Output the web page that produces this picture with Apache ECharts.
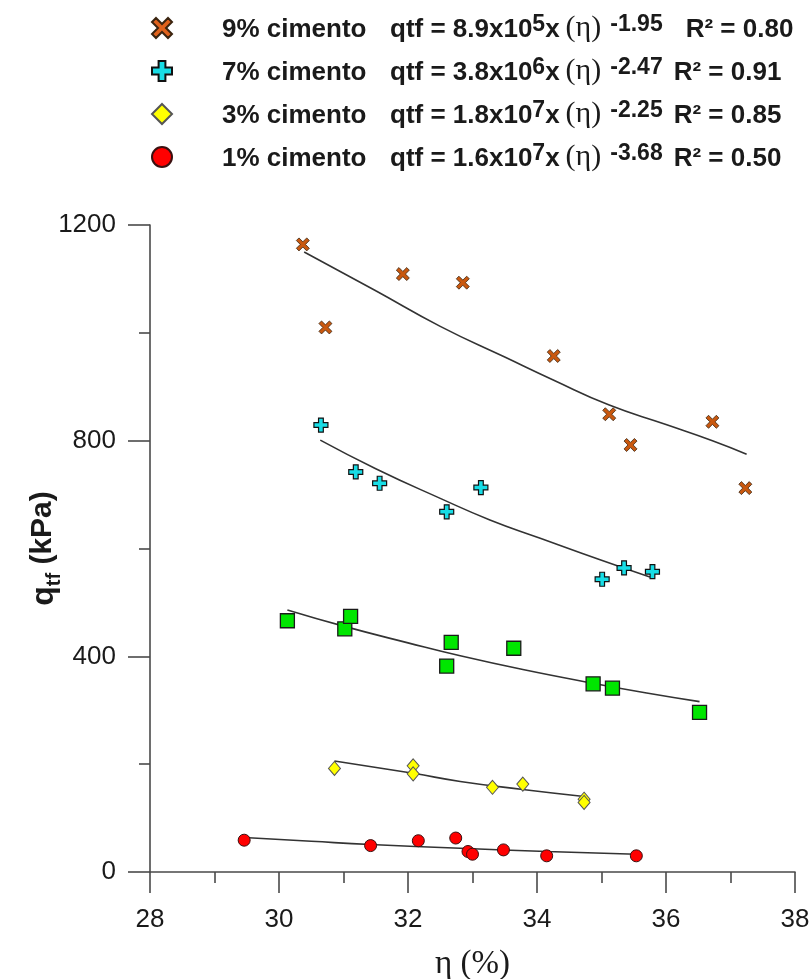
<!DOCTYPE html>
<html>
<head>
<meta charset="utf-8">
<script src="https://cdn.jsdelivr.net/npm/echarts@6/dist/echarts.min.js"></script>
<style>
  html, body { margin: 0; padding: 0; background: #ffffff; }
  #chart { width: 812px; height: 979px; }
</style>
</head>
<body>
<div id="chart"></div>
<script>
// Axis ranges and tick steps
const xMin = 28, xMax = 38, xStep = 2;
const yMin = 0, yMax = 1200, yStep = 400;

// Measured points: [porosity η (%), q_tf (kPa)]
const cimento9 = [[30.37, 1164], [30.72, 1010], [31.92, 1109], [32.85, 1093], [34.26, 957], [35.12, 849], [35.45, 792], [36.72, 835], [37.23, 712]];
const cimento7 = [[30.65, 829], [31.19, 742], [31.56, 721], [32.60, 668], [33.13, 713], [35.01, 543], [35.35, 564], [35.79, 557]];
const cimento5 = [[30.13, 466], [31.02, 451], [31.11, 474], [32.60, 382], [32.67, 426], [33.64, 415], [34.87, 349], [35.17, 341], [36.52, 296]];
const cimento3 = [[30.86, 192], [32.08, 197], [32.08, 182], [33.31, 157], [33.78, 163], [34.73, 135], [34.73, 129]];
const cimento1 = [[29.46, 59], [31.42, 49], [32.16, 58], [32.74, 63], [32.93, 38], [33.00, 33], [33.48, 41], [34.15, 30], [35.54, 30]];

// Power-law trend curves, read along the drawn fits
const trend9 = [[30.39, 1150], [31.5, 1078], [32.5, 1012], [33.5, 955], [34.26, 912], [35.12, 866], [36.0, 830], [36.72, 800], [37.25, 775]];
const trend7 = [[30.64, 801], [31.5, 748], [32.5, 693], [33.27, 653], [34.05, 619], [35.0, 578], [35.75, 547]];
const trend5 = [[30.13, 486], [31.0, 456], [32.0, 425], [32.81, 401], [33.8, 375], [34.87, 350], [35.7, 332], [36.52, 316]];
const trend3 = [[30.86, 206], [32.08, 183], [32.81, 168], [33.78, 153], [34.73, 140]];
const trend1 = [[29.46, 64], [30.5, 57], [31.42, 51], [32.81, 44], [34.15, 38], [35.54, 33]];

// Legend entries and fitted equations
const legendNames = ['9% cimento', '7% cimento', '3% cimento', '1% cimento'];
const coefMantissa = ['8.9', '3.8', '1.8', '1.6'];
const coefPower = ['5', '6', '7', '7'];
const etaPower = ['-1.95', '-2.47', '-2.25', '-3.68'];
const rSquared = ['0.80', '0.91', '0.85', '0.50'];

const SANS = '"Liberation Sans", Arial, Helvetica, sans-serif';
const SERIF = '"Liberation Serif", "Times New Roman", serif';

const xShape = 'path://M2,0 L5,3 L8,0 L10,2 L7,5 L10,8 L8,10 L5,7 L2,10 L0,8 L3,5 L0,2 Z';
const plusShape = 'path://M3.3,0 L6.7,0 L6.7,3.3 L10,3.3 L10,6.7 L6.7,6.7 L6.7,10 L3.3,10 L3.3,6.7 L0,6.7 L0,3.3 L3.3,3.3 Z';

const chart = echarts.init(document.getElementById('chart'), null, { renderer: 'canvas' });

function trendSeries(data) {
  return {
    type: 'line',
    data: data,
    smooth: true,
    showSymbol: false,
    silent: true,
    lineStyle: { color: '#333333', width: 1.6 },
    z: 1
  };
}

const axisGray = '#4a4a4a';
const ink = '#1a1a1a';

chart.setOption({
  animation: false,
  backgroundColor: '#ffffff',
  grid: { left: 150, right: 17, top: 225, bottom: 107, containLabel: false, outerBoundsMode: 'none' },
  legend: {
    orient: 'vertical',
    left: 146,
    top: 8,
    itemWidth: 20,
    itemHeight: 20,
    itemGap: 13,
    data: [
      { name: legendNames[0], icon: xShape, itemStyle: { color: '#e0621c' } },
      { name: legendNames[1], icon: plusShape },
      { name: legendNames[2], icon: 'diamond' },
      { name: legendNames[3], icon: 'circle' }
    ],
    formatter: function (name) {
      const i = legendNames.indexOf(name);
      const tail = i === 0 ? 'rr' : 'r';
      return '{nm|' + name + '}{eq|qtf = ' + coefMantissa[i] + 'x10}{sp|' + coefPower[i] +
        '}{eq|x}{gk|(η)}{sp|' + etaPower[i] + '}{' + tail + '|R² = ' + rSquared[i] + '}';
    },
    textStyle: {
      fontFamily: SANS,
      fontWeight: 'bold',
      fontSize: 26,
      color: ink,
      lineHeight: 30,
      rich: {
        nm: { fontFamily: SANS, fontWeight: 'bold', fontSize: 26, color: ink, padding: [0, 0, 0, 45], width: 168, verticalAlign: 'bottom', lineHeight: 30 },
        eq: { fontFamily: SANS, fontWeight: 'bold', fontSize: 26, color: ink, verticalAlign: 'bottom', lineHeight: 30 },
        gk: { fontFamily: SERIF, fontWeight: 'normal', fontSize: 30, color: ink, verticalAlign: 'bottom', lineHeight: 30, padding: [0, 9, 0, 6] },
        sp: { fontFamily: SANS, fontWeight: 'bold', fontSize: 23, color: ink, verticalAlign: 'top', lineHeight: 30 },
        r: { fontFamily: SANS, fontWeight: 'bold', fontSize: 26, color: ink, verticalAlign: 'bottom', lineHeight: 30, padding: [0, 0, 0, 11] },
        rr: { fontFamily: SANS, fontWeight: 'bold', fontSize: 26, color: ink, verticalAlign: 'bottom', lineHeight: 30, padding: [0, 0, 0, 23] }
      }
    }
  },
  xAxis: [
    {
      // axis line, ticks and title
      type: 'value',
      min: xMin,
      max: xMax,
      interval: xStep,
      name: 'η (%)',
      nameLocation: 'middle',
      nameGap: 76,
      nameMoveOverlap: false,
      nameTextStyle: { fontFamily: SERIF, fontSize: 33, color: ink },
      axisLine: { show: true, onZero: false, lineStyle: { color: axisGray, width: 1.6 } },
      axisTick: { show: true, inside: false, length: 21, lineStyle: { color: axisGray, width: 1.6 } },
      minorTick: { show: true, splitNumber: 2, length: 11, lineStyle: { color: axisGray, width: 1.6 } },
      axisLabel: { show: false },
      splitLine: { show: false }
    },
    {
      // tick labels, set below the tick marks
      type: 'value',
      gridIndex: 0,
      position: 'bottom',
      offset: 27,
      min: xMin,
      max: xMax,
      interval: xStep,
      axisLine: { show: false },
      axisTick: { show: false },
      minorTick: { show: false },
      axisLabel: { show: true, fontFamily: SANS, fontSize: 26, color: ink, margin: 8 },
      splitLine: { show: false }
    }
  ],
  yAxis: {
    type: 'value',
    min: yMin,
    max: yMax,
    interval: yStep,
    name: '{q|q}{s|tf}{k| (kPa)}',
    nameLocation: 'middle',
    nameGap: 86,
    nameMoveOverlap: false,
    nameTextStyle: {
      rich: {
        q: { fontFamily: SANS, fontWeight: 'bold', fontSize: 32, color: ink, lineHeight: 36, verticalAlign: 'top' },
        s: { fontFamily: SANS, fontWeight: 'bold', fontSize: 20, color: ink, lineHeight: 36, verticalAlign: 'bottom' },
        k: { fontFamily: SANS, fontWeight: 'bold', fontSize: 30, color: ink, lineHeight: 36, verticalAlign: 'top' }
      }
    },
    axisLine: { show: true, onZero: false, lineStyle: { color: axisGray, width: 1.6 } },
    axisTick: { show: true, inside: false, length: 22, lineStyle: { color: axisGray, width: 1.6 } },
    minorTick: { show: true, splitNumber: 2, length: 11, lineStyle: { color: axisGray, width: 1.6 } },
    axisLabel: { fontFamily: SANS, fontSize: 26, color: ink, margin: 34, formatter: function (v) { return String(v); } },
    splitLine: { show: false }
  },
  series: [
    trendSeries(trend9),
    trendSeries(trend7),
    trendSeries(trend5),
    trendSeries(trend3),
    trendSeries(trend1),
    {
      name: legendNames[0], type: 'scatter', data: cimento9, symbol: xShape, symbolSize: 13, z: 3,
      itemStyle: { color: '#c9580f', borderColor: '#3a2410', borderWidth: 0.8, opacity: 1 }
    },
    {
      name: legendNames[1], type: 'scatter', data: cimento7, symbol: plusShape, symbolSize: 14, z: 3,
      itemStyle: { color: '#18dde6', borderColor: '#111111', borderWidth: 1.2, opacity: 1 }
    },
    {
      name: '5% cimento', type: 'scatter', data: cimento5, symbol: 'rect', symbolSize: 14, z: 3,
      itemStyle: { color: '#00e600', borderColor: '#1a1a1a', borderWidth: 1.3, opacity: 1 }
    },
    {
      name: legendNames[2], type: 'scatter', data: cimento3, symbol: 'diamond', symbolSize: [12, 14], z: 3,
      itemStyle: { color: '#ffff00', borderColor: '#555555', borderWidth: 1, opacity: 1 }
    },
    {
      name: legendNames[3], type: 'scatter', data: cimento1, symbol: 'circle', symbolSize: 12, z: 3,
      itemStyle: { color: '#ff0000', borderColor: '#3a1010', borderWidth: 1, opacity: 1 }
    }
  ]
});
</script>
</body>
</html>
